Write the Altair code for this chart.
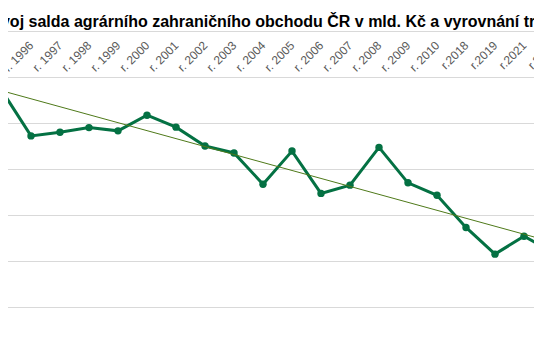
import altair as alt
import pandas as pd

years = ["r. 1995", "r. 1996", "r. 1997", "r. 1998", "r. 1999", "r. 2000", "r. 2001",
         "r. 2002", "r. 2003", "r. 2004", "r. 2005", "r. 2006", "r. 2007", "r. 2008",
         "r. 2009", "r. 2010", "r.2018", "r.2019", "r.2021", "r.2022"]
saldo = [-13.0, -22.8, -22.0, -21.0, -21.7, -18.3, -20.9, -25.0, -26.5, -33.3,
         -26.1, -35.3, -33.5, -25.3, -33.0, -35.7, -42.7, -48.5, -44.6, -48.1]
trend_years = ["r. 1995", "r.2022"]
trend_val = [-13.0, -45.9]
grid_vals = [0, -10, -20, -30, -40, -50, -60, -70]

df = pd.DataFrame({"rok": years, "saldo": saldo})
tdf = pd.DataFrame({"rok": trend_years, "trend": trend_val})

xscale = alt.Scale(type="point", domain=years, range=[-6, 545], padding=0)
yscale = alt.Scale(domain=[-68.9, 0], nice=False, zero=False)

xaxis = alt.Axis(orient="top", labelAngle=315, labelAlign="right", labelBaseline="middle",
                 labelPadding=-12, ticks=False, domain=False, grid=False,
                 labelOverlap=False, labelFont="Liberation Sans",
                 labelFontSize=12, labelColor="#595959", title=None)
yaxis = alt.Axis(values=grid_vals, labels=False, ticks=False, domain=False, grid=True,
                 gridColor="#d9d9d9", gridWidth=1, title=None)

base = alt.Chart(df)
line = base.mark_line(color="#047143", strokeWidth=3, clip=True).encode(
    x=alt.X("rok:N", scale=xscale, axis=xaxis, sort=years),
    y=alt.Y("saldo:Q", scale=yscale, axis=yaxis),
)
pts = base.mark_circle(color="#047143", size=55, opacity=1, clip=True).encode(
    x=alt.X("rok:N", scale=xscale, sort=years),
    y=alt.Y("saldo:Q", scale=yscale),
)
trend = alt.Chart(tdf).mark_line(color="#4f7a1a", strokeWidth=1, clip=True).encode(
    x=alt.X("rok:N", scale=xscale, sort=years),
    y=alt.Y("trend:Q", scale=yscale),
)

chart = alt.layer(line, pts, trend).properties(
    width=526, height=317,
    autosize=alt.AutoSizeParams(type="none"),
    padding={"left": 0, "right": 0, "top": 23, "bottom": 0},
    title=alt.TitleParams(
        "Vývoj salda agrárního zahraničního obchodu ČR v mld. Kč a vyrovnání trendem",
        anchor="start", frame="group", dx=-26.6, dy=19, offset=7, baseline="alphabetic",
        font="Liberation Sans", fontSize=16, fontWeight="bold", color="#000000",
    ),
).configure_view(stroke=None)

chart.save("out.html", embed_options={"renderer": "svg", "actions": False})
